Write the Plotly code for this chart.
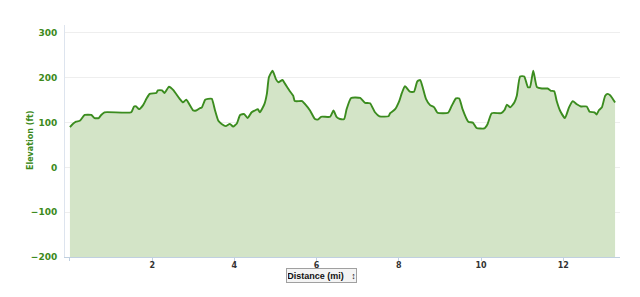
import plotly.graph_objects as go

distance_mi = [0.00, 0.07, 0.15, 0.24, 0.36, 0.52, 0.60, 0.70, 0.76, 0.84, 1.49, 1.56, 1.61, 1.68, 1.78,
               1.86, 1.94, 2.10, 2.14, 2.24, 2.30, 2.41, 2.51, 2.67, 2.75, 2.83, 3.00, 3.07, 3.16, 3.21,
               3.29, 3.36, 3.45, 3.53, 3.61, 3.69, 3.79, 3.89, 3.97, 4.06, 4.14, 4.24, 4.32, 4.42, 4.50,
               4.57, 4.62, 4.73, 4.79, 4.84, 4.93, 5.01, 5.07, 5.17, 5.23, 5.35, 5.43, 5.47, 5.65, 5.72,
               5.84, 5.96, 6.04, 6.11, 6.33, 6.41, 6.49, 6.57, 6.67, 6.73, 6.84, 7.06, 7.18, 7.30, 7.42,
               7.53, 7.75, 7.79, 7.91, 8.01, 8.07, 8.15, 8.27, 8.37, 8.45, 8.52, 8.58, 8.66, 8.76, 8.86,
               8.94, 9.20, 9.29, 9.39, 9.47, 9.55, 9.69, 9.80, 9.89, 10.08, 10.16, 10.26, 10.49, 10.57,
               10.63, 10.71, 10.81, 10.87, 10.95, 11.05, 11.14, 11.19, 11.27, 11.36, 11.48, 11.62, 11.70,
               11.78, 11.84, 11.92, 12.04, 12.14, 12.23, 12.33, 12.43, 12.57, 12.64, 12.76, 12.81, 12.87,
               12.94, 13.02, 13.08, 13.14, 13.19, 13.26]
elevation_ft = [90, 97, 102, 104, 117, 117, 110, 110, 117, 123, 123, 136, 136, 130, 139,
                153, 164, 166, 172, 172, 166, 180, 173, 153, 145, 151, 127, 127, 132, 134,
                151, 153, 153, 127, 104, 97, 92, 97, 91, 98, 117, 119, 110, 123, 127,
                130, 123, 141, 164, 201, 216, 197, 190, 195, 187, 170, 160, 148, 148, 141,
                127, 108, 107, 113, 113, 127, 112, 108, 108, 130, 155, 155, 144, 143, 123,
                114, 114, 121, 130, 148, 165, 181, 169, 169, 192, 195, 179, 153, 139, 134,
                122, 122, 138, 154, 154, 130, 102, 100, 88, 87, 97, 121, 121, 128,
                140, 134, 145, 160, 203, 203, 179, 179, 216, 179, 176, 176, 171,
                170, 148, 127, 110, 134, 148, 141, 136, 136, 124, 123, 118, 128,
                134, 160, 164, 161, 155, 145]

x_tick_vals = [0, 2, 4, 6, 8, 10, 12]
x_tick_text = ["", "2", "4", "6", "8", "10", "12"]
y_tick_vals = [-200, -100, 0, 100, 200, 300]
y_min = -200

LINE = "#3b8c1f"
FILL = "#d3e4c7"
GREEN_TXT = "#3d8a1c"
FONT = "DejaVu Sans"

fig = go.Figure()
fig.add_trace(go.Scatter(x=distance_mi, y=[y_min] * len(distance_mi), mode="lines",
                         line=dict(width=0, color=FILL), hoverinfo="skip", showlegend=False))
fig.add_trace(go.Scatter(x=distance_mi, y=elevation_ft, mode="lines", fill="tonexty",
                         fillcolor=FILL, line=dict(color=LINE, width=1.9, shape="spline", smoothing=0.5),
                         showlegend=False))

fig.update_layout(
    width=640, height=297,
    margin=dict(l=65, r=20, t=25, b=40),
    paper_bgcolor="white", plot_bgcolor="white",
    font=dict(family=FONT),
    xaxis=dict(range=[-0.12, 13.38], tickvals=x_tick_vals, ticktext=x_tick_text,
               showgrid=False, zeroline=False, showline=True, linecolor="#c0d0e0", linewidth=1,
               ticks="outside", ticklen=3, tickcolor="#c0d0e0", ticklabelstandoff=-3,
               tickfont=dict(size=8, color="#333333", family=FONT, weight="bold")),
    yaxis=dict(range=[y_min, 317.8], tickvals=y_tick_vals, showgrid=True, gridcolor="#eeeeee",
               zeroline=False, showline=True, linecolor="#dde4ee", linewidth=1, ticks="",
               ticklabelstandoff=5,
               tickfont=dict(size=9, color=GREEN_TXT, family=FONT, weight="bold")),
)

fig.add_annotation(xref="paper", yref="paper", x=-0.063, y=0.5, xanchor="center", yanchor="middle",
                   text="Elevation (ft)", textangle=-90, showarrow=False,
                   font=dict(size=8, color=GREEN_TXT, family=FONT, weight="bold"))

fig.add_annotation(xref="paper", yref="paper", x=0.462, y=-0.079, xanchor="center", yanchor="middle",
                   text="Distance (mi)&nbsp;&nbsp;&nbsp;↕", showarrow=False, width=67, height=11,
                   font=dict(size=9, color="#111111", family="Liberation Sans", weight="bold"),
                   bgcolor="#f4f4f4", bordercolor="#a0a0a0", borderwidth=1, borderpad=1)

fig.write_html("out.html")
